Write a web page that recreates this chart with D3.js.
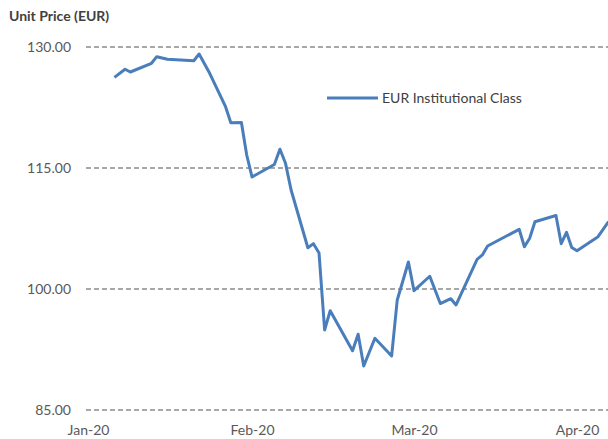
<!DOCTYPE html>
<html>
<head>
<meta charset="utf-8">
<script src="https://cdn.jsdelivr.net/npm/d3@7"></script>
<style>
  body { margin: 0; background: #fff; }
  svg text { font-family: Lato, "Open Sans", sans-serif; }
</style>
</head>
<body>
<div id="chart"></div>
<script>
// data
var dates = [
    '2020-01-06', '2020-01-08', '2020-01-09', '2020-01-13', '2020-01-14', '2020-01-16',
    '2020-01-21', '2020-01-22', '2020-01-24', '2020-01-27', '2020-01-28', '2020-01-30',
    '2020-01-31', '2020-02-01', '2020-02-05', '2020-02-06', '2020-02-07', '2020-02-08',
    '2020-02-11', '2020-02-12', '2020-02-13', '2020-02-14', '2020-02-15', '2020-02-19',
    '2020-02-20', '2020-02-21', '2020-02-23', '2020-02-26', '2020-02-27', '2020-02-29',
    '2020-03-01', '2020-03-04', '2020-03-06', '2020-03-08', '2020-03-09', '2020-03-13',
    '2020-03-14', '2020-03-15', '2020-03-21', '2020-03-22', '2020-03-23', '2020-03-24',
    '2020-03-28', '2020-03-29', '2020-03-30', '2020-03-31', '2020-04-01', '2020-04-05',
    '2020-04-07'
];
var prices = [
    126.24, 127.24, 126.90, 127.98, 128.80, 128.48,
    128.30, 129.13, 126.74, 122.60, 120.62, 120.65,
    116.61, 113.89, 115.43, 117.33, 115.58, 112.27,
    105.11, 105.62, 104.46, 94.92, 97.31, 92.35,
    94.39, 90.46, 93.89, 91.70, 98.64, 103.35,
    99.79, 101.58, 98.20, 98.80, 98.02, 103.68,
    104.22, 105.33, 107.40, 105.24, 106.29, 108.34,
    109.11, 105.62, 107.03, 105.15, 104.75, 106.48,
    108.34
];
var yTicks = [85, 100, 115, 130];
var monthTicks = ['2020-01-01', '2020-02-01', '2020-03-01', '2020-04-01'];
var seriesName = 'EUR Institutional Class';
var axisTitle = 'Unit Price (EUR)';

var parseDate = d3.timeParse('%Y-%m-%d');
var data = dates.map(function(d, i) { return {date: parseDate(d), value: prices[i]}; });
var tickDates = monthTicks.map(parseDate);

var svgWidth = 608, svgHeight = 439;

var svg = d3.select('#chart').append('svg')
    .attr('width', svgWidth).attr('height', svgHeight);

// x: month starts placed where the reference puts its labels
var x = d3.scaleTime()
    .domain(tickDates)
    .range([88, 252, 414, 577]);

var y = d3.scaleLinear()
    .domain([85, 130])
    .range([410, 47]);

// gridlines
svg.append('g')
    .selectAll('line')
    .data(yTicks)
    .enter().append('line')
    .attr('x1', 86).attr('x2', svgWidth)
    .attr('y1', function(d) { return y(d); })
    .attr('y2', function(d) { return y(d); })
    .attr('stroke', '#8c8c8c')
    .attr('stroke-width', 1.5)
    .attr('stroke-dasharray', '5,3');

// y axis labels
var yAxis = d3.axisLeft(y).tickValues(yTicks).tickFormat(d3.format('.2f')).tickSize(0).tickPadding(0);
svg.append('g')
    .attr('transform', 'translate(71,0)')
    .call(yAxis)
    .call(function(g) { g.select('.domain').remove(); })
    .selectAll('text')
    .attr('fill', '#595959')
    .style('font-size', '14px')
    .style('font-family', 'Lato, "Open Sans", sans-serif');

// x axis labels
var xAxis = d3.axisBottom(x).tickValues(tickDates).tickFormat(d3.timeFormat('%b-%y')).tickSize(0).tickPadding(0);
svg.append('g')
    .attr('transform', 'translate(0,425)')
    .call(xAxis)
    .call(function(g) { g.select('.domain').remove(); })
    .selectAll('text')
    .attr('fill', '#595959')
    .style('font-size', '14px')
    .style('font-family', 'Lato, "Open Sans", sans-serif');

// axis title
svg.append('text')
    .attr('x', 9).attr('y', 21)
    .attr('fill', '#404040')
    .style('font-size', '14px')
    .style('font-weight', 'bold')
    .text(axisTitle);

// the line
var line = d3.line()
    .x(function(d) { return x(d.date); })
    .y(function(d) { return y(d.value); });

svg.append('path')
    .datum(data)
    .attr('d', line)
    .attr('fill', 'none')
    .attr('stroke', '#4a7ebb')
    .attr('stroke-width', 3)
    .attr('stroke-linejoin', 'round');

// legend
svg.append('line')
    .attr('x1', 327).attr('x2', 378)
    .attr('y1', 98).attr('y2', 98)
    .attr('stroke', '#4a7ebb')
    .attr('stroke-width', 3);
svg.append('text')
    .attr('x', 382).attr('y', 103)
    .attr('fill', '#404040')
    .style('font-size', '14px')
    .text(seriesName);
</script>
</body>
</html>
